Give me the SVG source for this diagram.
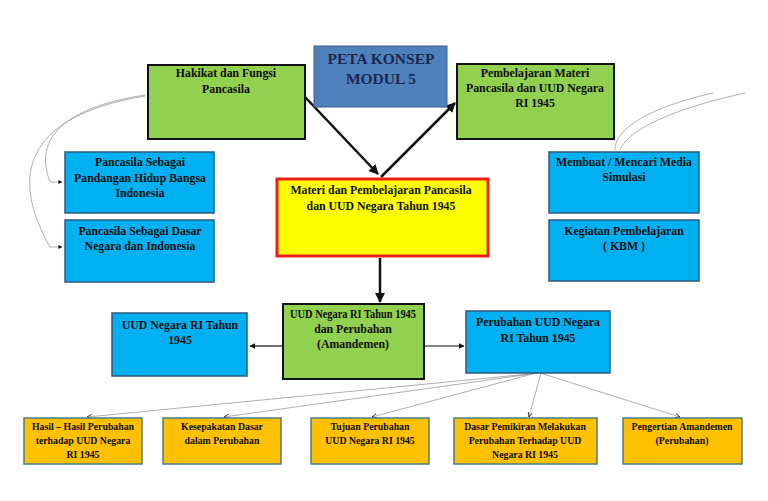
<svg xmlns="http://www.w3.org/2000/svg" width="768" height="501" viewBox="0 0 768 501">
<defs>
<style>
.t{font-family:"Liberation Serif","Times New Roman",serif;font-weight:bold;font-size:11.8px;fill:#0d0d0d;text-anchor:middle}
.s{font-size:9.8px}
.title{font-family:"Liberation Serif","Times New Roman",serif;font-weight:bold;font-size:15.5px;fill:#1B2850;text-anchor:middle}
.g{fill:#92D050;stroke:#111;stroke-width:2}
.b{fill:#00B0F0;stroke:#2E5A7A;stroke-width:1.5}
.o{fill:#FFC000;stroke:#4E7C86;stroke-width:1.5}
.k{stroke:#111;stroke-width:2.5;fill:none}
.k1{stroke:#111;stroke-width:1.2;fill:none}
.gr{stroke:#9a9a9a;stroke-width:0.8;fill:none}
</style>
<marker id="ah" viewBox="0 0 10 10" refX="9" refY="5" markerWidth="4" markerHeight="4" orient="auto"><path d="M0,0 L10,5 L0,10 z" fill="#111"/></marker>
<marker id="as" viewBox="0 0 10 10" refX="9" refY="5" markerWidth="5" markerHeight="5" orient="auto"><path d="M0,0 L10,5 L0,10 z" fill="#111"/></marker>
<marker id="ag" viewBox="0 0 10 10" refX="9" refY="5" markerWidth="7" markerHeight="7" orient="auto"><path d="M0,1 L9,5 L0,9" fill="none" stroke="#222" stroke-width="1.5"/></marker>
</defs>
<rect width="768" height="501" fill="#fff"/>
<g id="connectors">
<path class="k" d="M305,97 L378,174" marker-end="url(#ah)"/>
<path class="k" d="M381,177 L455,103" marker-end="url(#ah)"/>
<path class="k" d="M380,258 L380,302" marker-end="url(#ah)"/>
<path class="k1" d="M282,346 L250,346" marker-end="url(#as)"/>
<path class="k1" d="M424,346 L464,346" marker-end="url(#as)"/>
<path class="gr" d="M145,95 C80,105 30,130 50,182 L62,182" marker-end="url(#as)"/>
<path class="gr" d="M145,96 C60,110 -5,150 50,247 L62,247" marker-end="url(#as)"/>
<path class="gr" d="M615,150 C615,125 660,105 713,93"/>
<path class="gr" d="M620,150 C630,125 690,105 745,93"/>
<path class="gr" d="M540,373 L87,417" marker-end="url(#ag)"/>
<path class="gr" d="M538,373 L224,417" marker-end="url(#ag)"/>
<path class="gr" d="M536,373 L372,417" marker-end="url(#ag)"/>
<path class="gr" d="M541,373 L529,417" marker-end="url(#ag)"/>
<path class="gr" d="M540,373 L680,417" marker-end="url(#ag)"/>
</g>
<g id="title"><rect x="314" y="46" width="133" height="61" fill="#4F81BD" stroke="#3A5F8A" stroke-width="1"/>
<text class="title" x="381" y="64">PETA KONSEP</text><text class="title" x="381" y="84">MODUL 5</text></g>
<g id="hakikat"><rect class="g" x="148" y="65" width="157" height="74"/>
<text class="t" x="226" y="77">Hakikat dan Fungsi</text><text class="t" x="226" y="93">Pancasila</text></g>
<g id="pembelajaran"><rect class="g" x="457" y="64" width="157" height="75"/>
<text class="t" x="535" y="77">Pembelajaran Materi</text><text class="t" x="535" y="92">Pancasila dan UUD Negara</text><text class="t" x="535" y="107">RI 1945</text></g>
<g id="materi"><rect x="277" y="179" width="211" height="77" fill="#FFFF00" stroke="#E8201A" stroke-width="3"/>
<text class="t" x="381" y="194">Materi dan Pembelajaran Pancasila</text><text class="t" x="381" y="210">dan UUD Negara Tahun 1945</text></g>
<g id="pandangan"><rect class="b" x="65" y="152" width="149" height="61"/>
<text class="t" x="140" y="166">Pancasila Sebagai</text><text class="t" x="140" y="182">Pandangan Hidup Bangsa</text><text class="t" x="140" y="197">Indonesia</text></g>
<g id="dasar"><rect class="b" x="65" y="220" width="149" height="62"/>
<text class="t" x="140" y="235">Pancasila Sebagai Dasar</text><text class="t" x="140" y="250">Negara dan Indonesia</text></g>
<g id="media"><rect class="b" x="549" y="152" width="150" height="61"/>
<text class="t" x="624" y="166">Membuat / Mencari Media</text><text class="t" x="624" y="181">Simulasi</text></g>
<g id="kbm"><rect class="b" x="549" y="220" width="150" height="61"/>
<text class="t" x="624" y="235">Kegiatan Pembelajaran</text><text class="t" x="624" y="250">( KBM )</text></g>
<g id="uud"><rect class="g" x="283" y="304" width="141" height="75"/>
<text class="t" x="353" y="318" textLength="126" lengthAdjust="spacingAndGlyphs">UUD Negara RI Tahun 1945</text><text class="t" x="353" y="333">dan Perubahan</text><text class="t" x="353" y="348">(Amandemen)</text></g>
<g id="uud1945"><rect class="b" x="112" y="313" width="135" height="63"/>
<text class="t" x="180" y="329">UUD Negara RI Tahun</text><text class="t" x="180" y="344">1945</text></g>
<g id="perubahan"><rect class="b" x="466" y="311" width="144" height="62"/>
<text class="t" x="538" y="326">Perubahan UUD Negara</text><text class="t" x="538" y="342">RI Tahun 1945</text></g>
<g id="hasil"><rect class="o" x="24" y="418" width="118" height="46"/>
<text class="t s" x="83" y="430">Hasil – Hasil Perubahan</text><text class="t s" x="83" y="444">terhadap UUD Negara</text><text class="t s" x="83" y="458">RI 1945</text></g>
<g id="kesepakatan"><rect class="o" x="163" y="418" width="118" height="46"/>
<text class="t s" x="222" y="430">Kesepakatan Dasar</text><text class="t s" x="222" y="444">dalam Perubahan</text></g>
<g id="tujuan"><rect class="o" x="311" y="418" width="118" height="46"/>
<text class="t s" x="370" y="430">Tujuan Perubahan</text><text class="t s" x="370" y="444">UUD Negara RI 1945</text></g>
<g id="pemikiran"><rect class="o" x="454" y="418" width="143" height="46"/>
<text class="t s" x="525" y="430">Dasar Pemikiran Melakukan</text><text class="t s" x="525" y="444">Perubahan Terhadap UUD</text><text class="t s" x="525" y="458">Negara RI 1945</text></g>
<g id="pengertian"><rect class="o" x="623" y="418" width="119" height="46"/>
<text class="t s" x="682" y="430">Pengertian Amandemen</text><text class="t s" x="682" y="444">(Perubahan)</text></g>
</svg>
